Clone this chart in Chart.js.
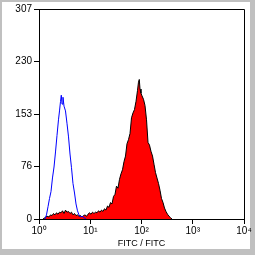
<!DOCTYPE html>
<html><head><meta charset="utf-8">
<script src="https://cdn.jsdelivr.net/npm/chart.js@4"></script>
<style>html,body{margin:0;padding:0;background:#c0c0c0;overflow:hidden}
#wrap{position:absolute;left:0;top:0;width:255px;height:255px}</style></head>
<body><div id="wrap"><canvas id="c"></canvas></div>
<script>
const xTicks = [0, 1, 2, 3, 4];
const xTickLabels = ['10⁰', '10¹', '10²', '10³', '10⁴'];
const yTicks = [0, 76.75, 153.5, 230.25, 307];
const yTickLabels = ['0', '76', '153', '230', '307'];
const xTitle = 'FITC / FITC';

// channel positions in decades (log10 of FITC intensity)
const blueX = [0.117,0.146,0.176,0.205,0.234,0.263,0.293,0.322,0.351,0.380,0.400,0.420,0.435,0.449,0.468,0.488,0.517,0.546,0.576,0.605,0.634,0.663,0.693,0.722,0.751,0.780,0.810,0.839,0.878,0.917];
const blueY = [0,6,18,30,40,60,76,98,122,145,158,172,181,168,178,165,158,140,120,95,75,52,38,22,12,6,3,4,2,0];

const redX = [0.078,0.117,0.156,0.195,0.224,0.254,0.283,0.312,0.341,0.371,0.400,0.429,0.459,0.488,0.517,0.546,0.576,0.605,0.634,0.663,0.693,0.722,0.751,0.780,0.810,0.839,0.868,0.898,0.927,0.956,0.985,1.015,1.044,1.073,1.102,1.132,1.161,1.190,1.220,1.249,1.278,1.307,1.337,1.366,1.395,1.424,1.454,1.483,1.512,1.541,1.571,1.600,1.629,1.659,1.688,1.717,1.746,1.776,1.805,1.834,1.863,1.893,1.922,1.941,1.957,1.971,1.990,2.010,2.039,2.068,2.098,2.127,2.156,2.185,2.215,2.244,2.273,2.302,2.332,2.361,2.390,2.420,2.449,2.478,2.507,2.537,2.566,2.595];
const redY = [0,2,4,3,6,5,8,6,9,7,10,9,12,8,13,10,11,8,10,6,8,5,6,4,5,3,5,6,4,7,9,7,10,8,10,9,12,10,13,11,15,13,19,17,24,22,33,36,48,45,58,66,72,84,92,110,116,125,148,155,160,172,188,200,204,190,184,180,175,166,145,112,108,99,92,80,68,60,52,42,30,24,16,11,7,4,2,0];

const FONT = 'Liberation Sans, Arial, sans-serif';

const panelPlugin = {
  id: 'panel',
  beforeDraw(chart) {
    const ctx = chart.ctx;
    ctx.save();
    ctx.fillStyle = '#ffffff';
    ctx.fillRect(2, 2, 248, 247);
    ctx.restore();
  },
  afterDraw(chart) {
    const {ctx, chartArea: a} = chart;
    ctx.save();
    ctx.strokeStyle = '#000';
    ctx.lineWidth = 1;
    ctx.beginPath();
    ctx.moveTo(a.left, Math.round(a.top) + 0.5);
    ctx.lineTo(Math.round(a.right) + 0.5, Math.round(a.top) + 0.5);
    ctx.lineTo(Math.round(a.right) + 0.5, a.bottom);
    ctx.stroke();
    ctx.restore();
  }
};

new Chart(document.getElementById('c'), {
  type: 'line',
  data: {
    datasets: [
      {
        data: blueX.map((x, i) => ({x, y: blueY[i]})),
        borderColor: '#0000ff', borderWidth: 1, fill: false,
        pointRadius: 0, tension: 0
      },
      {
        data: redX.map((x, i) => ({x, y: redY[i]})),
        borderColor: '#000000', borderWidth: 1, backgroundColor: '#ff0000',
        fill: 'origin', pointRadius: 0, tension: 0
      }
    ]
  },
  options: {
    responsive: true, maintainAspectRatio: false, animation: false,
    devicePixelRatio: 1,
    layout: {padding: {left: 0, right: 11, top: 9, bottom: 0}},
    plugins: {legend: {display: false}, tooltip: {enabled: false}},
    scales: {
      x: {
        type: 'linear', min: 0, max: 4,
        afterBuildTicks: s => { s.ticks = xTicks.map(v => ({value: v})); },
        afterFit: s => { s.height = 36; },
        ticks: {callback: (v, i) => xTickLabels[i], font: {family: FONT, size: 10}, color: '#000', padding: 1, maxRotation: 0, autoSkip: false},
        grid: {drawOnChartArea: false, drawTicks: true, tickLength: 5, color: '#000'},
        border: {color: '#000', width: 1},
        title: {display: true, text: xTitle, font: {family: FONT, size: 9}, color: '#000', padding: {top: 0, bottom: 6}}
      },
      y: {
        type: 'linear', min: 0, max: 307,
        afterBuildTicks: s => { s.ticks = yTicks.map(v => ({value: v})); },
        afterFit: s => { s.width = 39; },
        ticks: {callback: (v, i) => yTickLabels[i], font: {family: FONT, size: 10}, color: '#000', padding: 2, autoSkip: false},
        grid: {drawOnChartArea: false, drawTicks: true, tickLength: 5, color: '#000'},
        border: {color: '#000', width: 1}
      }
    }
  },
  plugins: [panelPlugin]
});
</script>
</body></html>
